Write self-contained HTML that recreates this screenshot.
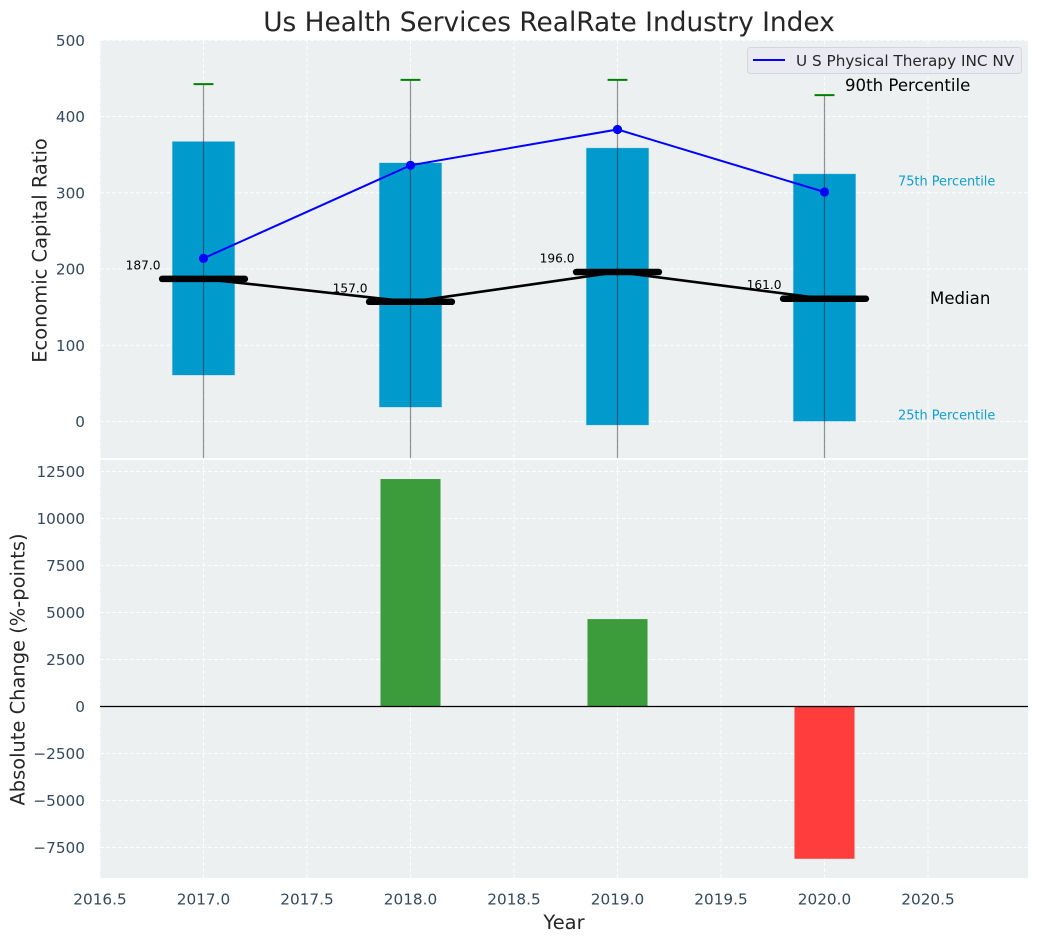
<!DOCTYPE html>
<html>
<head>
<meta charset="utf-8">
<title>Us Health Services RealRate Industry Index</title>
<style>
html,body{margin:0;padding:0;background:#fff;}
svg{display:block;}
text{font-family:"DejaVu Sans","Liberation Sans",sans-serif;}
</style>
</head>
<body>
<svg id="chart" xmlns="http://www.w3.org/2000/svg" width="1039" height="942" viewBox="0 0 1039 942"></svg>
<script>
const years = [2017, 2018, 2019, 2020];
const p90 = [442.5, 448, 448, 428];
const p75 = [367, 339, 358.5, 324.5];
const medians = [187, 157, 196, 161];
const p25 = [61, 19, -4.5, 0.5];
const p10 = [-100, -100, -100, -100];
const companyValues = [214, 336, 383, 301];
const changes = [0, 12100, 4650, -8100];
const xTicks = [2016.5, 2017, 2017.5, 2018, 2018.5, 2019, 2019.5, 2020, 2020.5];
const xTickLabels = ['2016.5', '2017.0', '2017.5', '2018.0', '2018.5', '2019.0', '2019.5', '2020.0', '2020.5'];
const topTicks = [0, 100, 200, 300, 400, 500];
const topTickLabels = ['0', '100', '200', '300', '400', '500'];
const bottomTicks = [-7500, -5000, -2500, 0, 2500, 5000, 7500, 10000, 12500];
const bottomTickLabels = ['\u22127500', '\u22125000', '\u22122500', '0', '2500', '5000', '7500', '10000', '12500'];

const svg = document.getElementById('chart');
const NS = 'http://www.w3.org/2000/svg';
const left = 100, right = 1028;
const topY0 = 40, topY1 = 458, botY0 = 460, botY1 = 878;
const x = v => 203.5 + (v - 2017) * 207;
const yTop = v => 421.5 - v * 0.7625;
const yBot = v => 706.5 - v * 0.0188;
const tickColor = '#34495e';
const tickSize = 15.28;

function mk(tag, attrs, parent) {
  const el = document.createElementNS(NS, tag);
  for (const k in attrs) el.setAttribute(k, attrs[k]);
  (parent || svg).appendChild(el);
  return el;
}
function txt(content, attrs, parent) {
  const el = mk('text', attrs, parent);
  el.textContent = content;
  return el;
}

const defs = mk('defs', {});
const cp = mk('clipPath', {id: 'top-clip'}, defs);
mk('rect', {x: left, y: topY0, width: right - left, height: topY1 - topY0}, cp);

/* panels */
const topPanel = mk('rect', {x: left, y: topY0, width: right - left, height: topY1 - topY0, fill: '#ecf0f1'});


const botPanel = mk('rect', {x: left, y: botY0, width: right - left, height: botY1 - botY0, fill: '#ecf0f1'});



/* grid and ticks */
const gridStyle = {stroke: '#ffffff', 'stroke-width': 1, 'stroke-dasharray': '4 2', opacity: 0.9};
xTicks.forEach((t, i) => {
  const g1 = mk('line', Object.assign({x1: x(t), x2: x(t), y1: topY0, y2: topY1}, gridStyle));
  
  
  const g2 = mk('line', Object.assign({x1: x(t), x2: x(t), y1: botY0, y2: botY1}, gridStyle));
  
  
  const lab = txt(xTickLabels[i], {x: x(t), y: 904.5, 'text-anchor': 'middle', 'font-size': tickSize, fill: tickColor});
  
  
});
topTicks.forEach((t, i) => {
  const g = mk('line', Object.assign({x1: left, x2: right, y1: yTop(t), y2: yTop(t)}, gridStyle));
  
  
  const lab = txt(topTickLabels[i], {x: 85, y: yTop(t) + 5.5, 'text-anchor': 'end', 'font-size': tickSize, fill: tickColor});
  
  
});
bottomTicks.forEach((t, i) => {
  const g = mk('line', Object.assign({x1: left, x2: right, y1: yBot(t), y2: yBot(t)}, gridStyle));
  
  
  const lab = txt(bottomTickLabels[i], {x: 85, y: yBot(t) + 5.5, 'text-anchor': 'end', 'font-size': tickSize, fill: tickColor});
  
  
});

/* top panel marks */
const topG = mk('g', {'clip-path': 'url(#top-clip)'});


const boxHalf = 0.15;
years.forEach((yr, i) => {
  const box = mk('rect', {x: x(yr - boxHalf), y: yTop(p75[i]), width: x(yr + boxHalf) - x(yr - boxHalf), height: yTop(p25[i]) - yTop(p75[i]), fill: '#009acc', stroke: '#009acc', 'stroke-opacity': 0.3, 'stroke-width': 1}, topG);
  
  
  const wh = mk('line', {x1: x(yr), x2: x(yr), y1: yTop(p90[i]), y2: yTop(p10[i]), stroke: '#000', 'stroke-opacity': 0.42, 'stroke-width': 1.2}, topG);
  
  
  const cap = mk('line', {x1: x(yr - 0.048), x2: x(yr + 0.048), y1: yTop(p90[i]), y2: yTop(p90[i]), stroke: '#008000', 'stroke-width': 2}, topG);
  
  
});

const medLine = mk('polyline', {points: years.map((yr, i) => x(yr) + ',' + yTop(medians[i])).join(' '), fill: 'none', stroke: '#000', 'stroke-width': 2.6}, topG);


years.forEach((yr, i) => {
  const m = mk('line', {x1: x(yr - 0.2), x2: x(yr + 0.2), y1: yTop(medians[i]), y2: yTop(medians[i]), stroke: '#000', 'stroke-width': 6.5, 'stroke-linecap': 'round'}, topG);
  
  
  const t = txt(medians[i].toFixed(1), {x: x(yr - 0.2), y: yTop(medians[i]) - 9.5, 'text-anchor': 'middle', 'font-size': 12.2, fill: '#000'}, topG);
  t.setAttribute('dx', -19);
  
  
});

const compLine = mk('polyline', {points: years.map((yr, i) => x(yr) + ',' + yTop(companyValues[i])).join(' '), fill: 'none', stroke: '#0000ff', 'stroke-width': 2}, topG);


years.forEach((yr, i) => {
  const c = mk('circle', {cx: x(yr), cy: yTop(companyValues[i]), r: 4.6, fill: '#0000ff'}, topG);
  
  
});

/* annotations */
const a90 = txt('90th Percentile', {x: 845, y: 91, 'font-size': 16.6, fill: '#000'});


const a75 = txt('75th Percentile', {x: 898, y: 185.5, 'font-size': 12.9, fill: '#0f9fcf'});


const aMed = txt('Median', {x: 930, y: 304, 'font-size': 16.6, fill: '#000'});


const a25 = txt('25th Percentile', {x: 898, y: 419.5, 'font-size': 12.9, fill: '#0f9fcf'});



/* legend */
const legend = mk('g', {});


const legBox = mk('rect', {x: 747.5, y: 47.5, width: 274, height: 26, rx: 3, fill: '#eaeaf2', stroke: '#d6d6da', 'stroke-width': 1}, legend);


const legLine = mk('line', {x1: 753, x2: 785, y1: 60, y2: 60, stroke: '#0000ff', 'stroke-width': 2}, legend);


const legText = txt('U S Physical Therapy INC NV', {x: 796, y: 66, 'font-size': 15.25, fill: '#262626'}, legend);



/* bottom panel */
const barHalf = 0.145;
years.forEach((yr, i) => {
  const v = changes[i];
  if (v === 0) return;
  const bar = mk('rect', {x: x(yr - barHalf), y: Math.min(yBot(v), yBot(0)), width: x(yr + barHalf) - x(yr - barHalf), height: Math.abs(yBot(v) - yBot(0)), fill: v > 0 ? '#3c9c3c' : '#ff3d3d'});
  
  
});
const zero = mk('line', {x1: left, x2: right, y1: yBot(0), y2: yBot(0), stroke: '#000', 'stroke-width': 1.3});



/* titles */
const title = txt('Us Health Services RealRate Industry Index', {x: 549, y: 31, 'text-anchor': 'middle', 'font-size': 26.4, fill: '#262626'});


const yt1 = txt('Economic Capital Ratio', {x: 0, y: 0, transform: 'translate(46.5 250.5) rotate(-90)', 'text-anchor': 'middle', 'font-size': 19.45, fill: '#262626'});


const yt2 = txt('Absolute Change (%-points)', {x: 0, y: 0, transform: 'translate(24.5 669.5) rotate(-90)', 'text-anchor': 'middle', 'font-size': 19.45, fill: '#262626'});


const xt = txt('Year', {x: 564, y: 929, 'text-anchor': 'middle', 'font-size': 19.45, fill: '#262626'});


</script>
</body>
</html>
